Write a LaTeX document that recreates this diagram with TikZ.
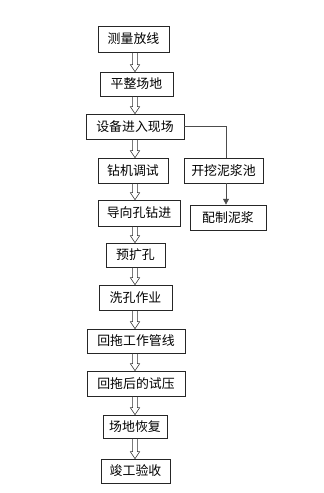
\documentclass[tikz,border=0pt]{standalone}
\usepackage{fontspec}
\newfontfamily\cjk{Noto Sans CJK SC}
\usepackage{tikz}
\usetikzlibrary{arrows.meta, positioning, calc}

\tikzset{
  stepbox/.style={draw=black!85, line width=0.6pt, minimum height=0.74cm, inner sep=0pt, font=\cjk\fontsize{11}{13}\selectfont},
  hollow/.style={draw=black!80, line width=0.5pt}
}

% hollow down arrow between two boxes of the main column
\newcommand{\hollowdown}[2]{%
  \draw[hollow] ($(#1.south -| axis)+(-2.4,0)$) -- ($(#2.north -| axis)+(-2.4,-7)$)
    -- ++(-2.3,0) -- (#2.north -| axis) -- ++(4.7,-7) -- ++(-2.3,0)
    -- ($(#1.south -| axis)+(2.4,0)$);}

\begin{document}
\begin{tikzpicture}[x=0.03cm, y=-0.03cm]
        \useasboundingbox[fill=white] (0,0) rectangle (323,493);
        \coordinate (axis) at (135,0);
        \coordinate (link) at (226,0);

        % Main column
        \node[stepbox, minimum width=2.13cm, minimum height=0.78cm] (survey) at (133.5,39) {测量放线};
        \node[stepbox, minimum width=2.19cm, minimum height=0.72cm] (level) at (136.5,84) {平整场地};
        \node[stepbox, minimum width=2.94cm, minimum height=0.75cm] (entry) at (135,126.5) {设备进入现场};
        \node[stepbox, minimum width=2.10cm, minimum height=0.75cm] (rigtest) at (133,170.5) {钻机调试};
        \node[stepbox, minimum width=2.46cm, minimum height=0.78cm] (pilot) at (139,213) {导向孔钻进};
        \node[stepbox, minimum width=1.77cm, minimum height=0.72cm] (ream) at (135.5,255) {预扩孔};
        \node[stepbox, minimum width=2.19cm, minimum height=0.75cm] (clean) at (135.5,297.5) {洗孔作业};
        \node[stepbox, minimum width=2.94cm, minimum height=0.72cm] (pullback) at (136,341) {回拖工作管线};
        \node[stepbox, minimum width=2.94cm, minimum height=0.75cm] (press) at (136,383.5) {回拖后的试压};
        \node[stepbox, minimum width=1.92cm, minimum height=0.69cm] (restore) at (135,426.5) {场地恢复};
        \node[stepbox, minimum width=2.07cm, minimum height=0.72cm] (accept) at (135.5,471) {竣工验收};

        % Side branch
        \node[stepbox, minimum width=2.37cm, minimum height=0.75cm] (pit) at (223.5,170.5) {开挖泥浆池};
        \node[stepbox, minimum width=2.28cm, minimum height=0.75cm] (mud) at (228,217.5) {配制泥浆};

        % Hollow arrows
        \hollowdown{survey}{level}
        \hollowdown{level}{entry}
        \hollowdown{entry}{rigtest}
        \hollowdown{rigtest}{pilot}
        \hollowdown{pilot}{ream}
        \hollowdown{ream}{clean}
        \hollowdown{clean}{pullback}
        \hollowdown{pullback}{press}
        \hollowdown{press}{restore}
        \hollowdown{restore}{accept}

        % Branch lines
        \draw[black!70, line width=0.6pt] (entry.east) -| (pit.north -| link);
        \draw[black!70, line width=0.6pt, -{Triangle[width=5pt, length=5pt]}] (pit.south -| link) -- (mud.north -| link);
    \end{tikzpicture}
\end{document}
